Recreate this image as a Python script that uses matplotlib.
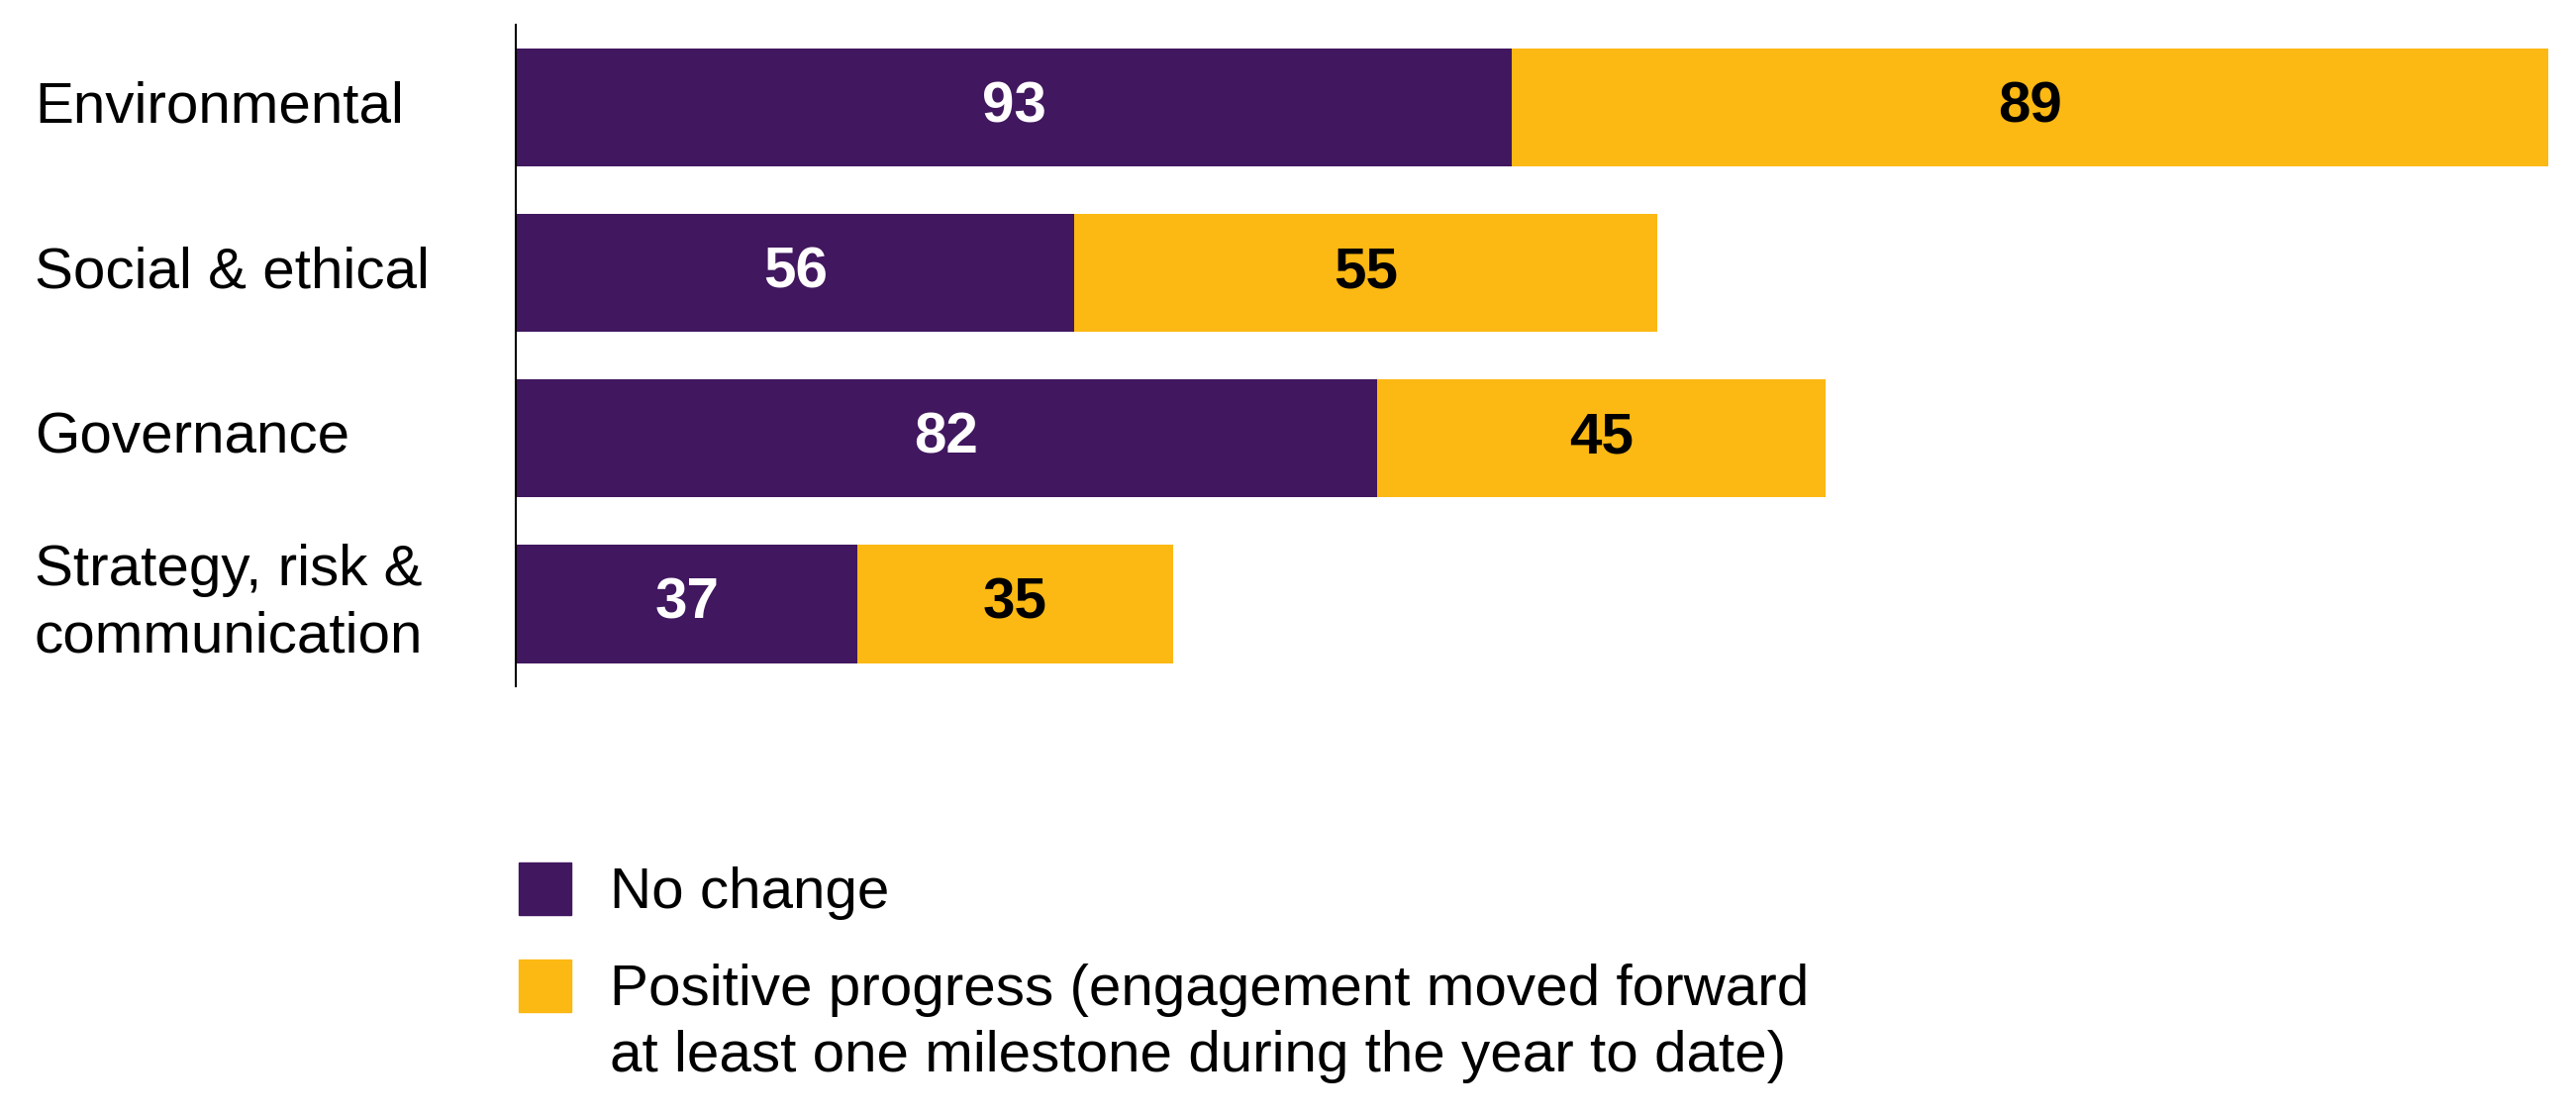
import matplotlib
matplotlib.use("Agg")
import matplotlib.pyplot as plt
from matplotlib.patches import Rectangle

plt.rcParams['font.family'] = ['Liberation Sans', 'DejaVu Sans']

# data
categories = ['Environmental', 'Social & ethical', 'Governance',
              'Strategy, risk &\ncommunication']
no_change_labels = [93, 56, 82, 37]
progress_labels = [89, 55, 45, 35]
# bar lengths as drawn in the picture (not proportional to the counts)
no_change_len = [60.6, 34.0, 52.4, 20.8]
progress_len = [63.1, 35.5, 27.3, 19.2]
series_names = ['No change',
                'Positive progress (engagement moved forward\nat least one milestone during the year to date)']
colors = ['#41175F', '#FCB813']
text_colors = ['white', 'black']

fig = plt.figure(figsize=(26.02, 11.28), dpi=100)
ax = fig.add_axes([0.2003, 0.3853, 0.7997, 0.5926])

y = list(range(len(categories)))
bars1 = ax.barh(y, no_change_len, height=0.715, color=colors[0])
bars2 = ax.barh(y, progress_len, left=no_change_len, height=0.715, color=colors[1])

for bars, labels, tc in [(bars1, no_change_labels, text_colors[0]),
                         (bars2, progress_labels, text_colors[1])]:
    for b, v in zip(bars, labels):
        ax.text(b.get_x() + b.get_width() / 2, b.get_y() + b.get_height() / 2,
                str(v), ha='center', va='center', color=tc,
                fontsize=42, fontweight='bold')

for yi, cat in zip(y, categories):
    ax.text(-0.2337, yi, cat, transform=ax.get_yaxis_transform(),
            ha='left', va='center', fontsize=42, color='black',
            linespacing=1.32)

ax.set_xlim(0, 125.4)
ax.set_ylim(3.5, -0.5)
ax.set_xticks([])
ax.set_yticks([])
for s in ['top', 'right', 'bottom']:
    ax.spines[s].set_visible(False)
ax.spines['left'].set_linewidth(1.5)
ax.spines['left'].set_color('black')

# legend drawn by hand so the square sits by the first line of text
leg_y = [0.1809, 0.0941]
for yy, c, name in zip(leg_y, colors, series_names):
    fig.add_artist(Rectangle((0.2015, yy), 0.0204, 0.047, color=c,
                             transform=fig.transFigure))
    fig.text(0.2366, yy + 0.0434, name, ha='left', va='top',
             fontsize=42, color='black', linespacing=1.32)

fig.savefig('out.png', dpi=100)
